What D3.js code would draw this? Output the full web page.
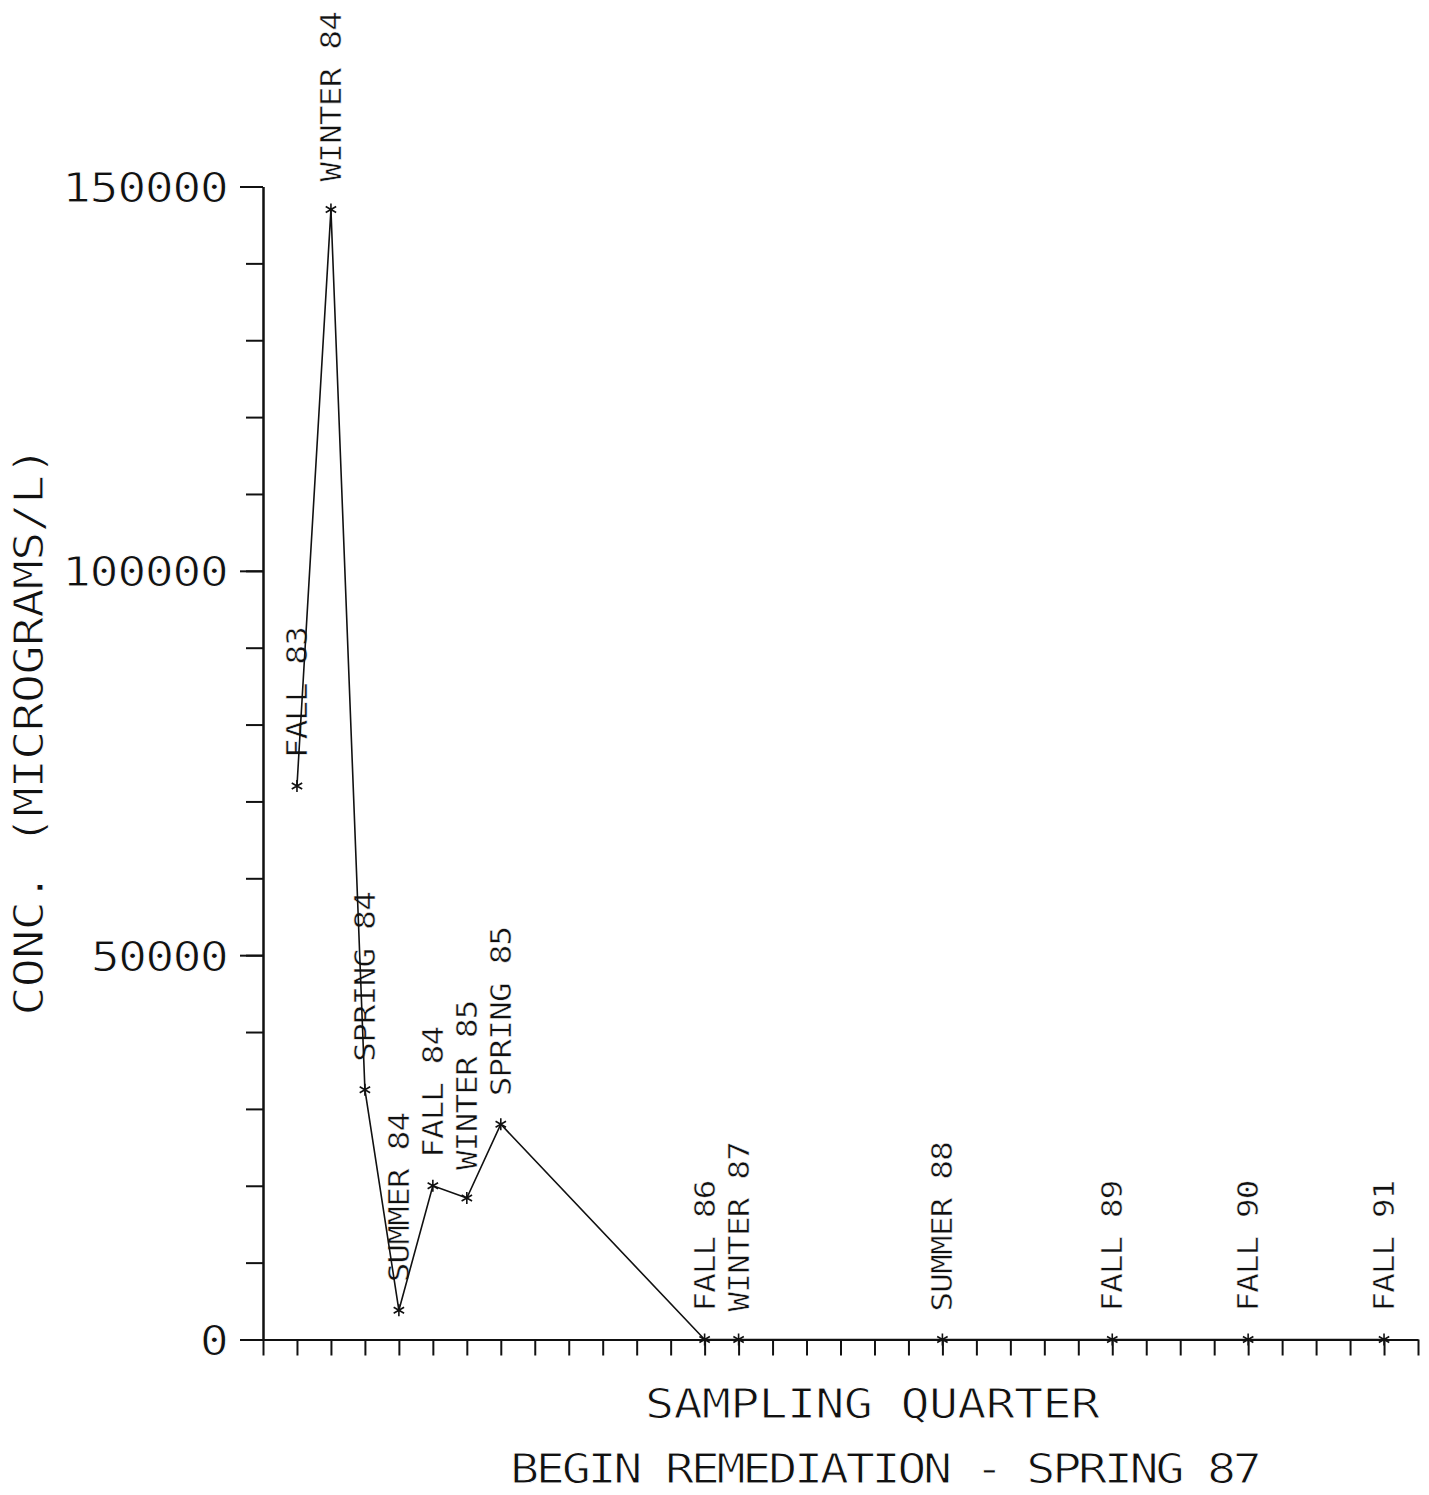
<!DOCTYPE html>
<html>
<head>
<meta charset="utf-8">
<script src="https://cdn.jsdelivr.net/npm/d3@7/dist/d3.min.js"></script>
<style>
  html, body { margin: 0; padding: 0; background: #fff; }
  svg { display: block; }
  text {
    font-family: "DejaVu Sans Mono", "Liberation Mono", monospace;
    font-weight: normal;
    font-feature-settings: "zero" 1;
    fill: #111;
    stroke: #fff;
    stroke-width: 1.0px;
  }
</style>
</head>
<body>
<svg id="chart" width="1429" height="1495"></svg>
<script>
// Sampling quarters counted from Summer 83 (index 0) on the horizontal axis.
const quarterIndex = [1, 2, 3, 4, 5, 6, 7, 13, 14, 20, 25, 29, 33];
const quarterNames = ["FALL 83", "WINTER 84", "SPRING 84", "SUMMER 84", "FALL 84",
  "WINTER 85", "SPRING 85", "FALL 86", "WINTER 87", "SUMMER 88",
  "FALL 89", "FALL 90", "FALL 91"];
// Concentration in micrograms per litre.
const concentration = [72000, 147000, 32500, 3800, 20000, 18400, 28000, 0, 0, 0, 0, 0, 0];

const yMajorTicks = [0, 50000, 100000, 150000];
const yMajorLabels = ["0", "50000", "100000", "150000"];
const yMinorTicks = d3.range(0, 150001, 10000);
const xTicks = d3.range(0, 35);

const yTitle = "CONC. (MICROGRAMS/L)";
const xTitle = "SAMPLING QUARTER";
const noteText = "BEGIN REMEDIATION - SPRING 87";

const svg = d3.select("#chart");

const x = d3.scaleLinear().domain([0, 34]).range([263, 1418]);
const y = d3.scaleLinear().domain([0, 150000]).range([1339.5, 186.5]);

const axisStroke = 2;
const stretch = 1.18;   // widen the glyphs toward square plotter lettering

// Horizontal axis with a tick for every quarter
const gx = svg.append("g")
  .attr("transform", `translate(0,${y(0)})`)
  .call(d3.axisBottom(x).tickValues(xTicks).tickSize(16).tickSizeOuter(0).tickFormat(""));

// Vertical axis: minor ticks every 10000
const gyMinor = svg.append("g")
  .attr("transform", `translate(${x(0)},0)`)
  .call(d3.axisLeft(y).tickValues(yMinorTicks).tickSize(17).tickSizeOuter(0).tickFormat(""));

// Vertical axis: major ticks with labels
const gyMajor = svg.append("g")
  .attr("transform", `translate(${x(0)},0)`)
  .call(d3.axisLeft(y).tickValues(yMajorTicks).tickSize(23).tickSizeOuter(0).tickPadding(11)
    .tickFormat((d, i) => yMajorLabels[i]));

[gx, gyMinor, gyMajor].forEach(g => {
  g.attr("font-family", null).attr("font-size", null);
  g.selectAll("path.domain").attr("stroke", "#111").attr("stroke-width", axisStroke);
  g.selectAll(".tick line").attr("stroke", "#111").attr("stroke-width", axisStroke);
});

const bigSize = 41;     // cap height about 30px
const bigAdvance = 28.8;
gyMajor.selectAll(".tick text")
  .attr("font-size", bigSize)
  .attr("dy", null)
  .attr("x", null)
  .attr("transform", `translate(-34,15) scale(${stretch},1)`)
  .attr("fill", "#111")
  .each(function () {
    const n = this.textContent.length;
    d3.select(this)
      .attr("textLength", ((n - 1) * bigAdvance + 23) / stretch)
      .attr("lengthAdjust", "spacing");
  });

// Axis titles
svg.append("text")
  .attr("transform", `translate(${28 + 15},731) rotate(-90) scale(${stretch},1)`)
  .attr("text-anchor", "middle")
  .attr("font-size", bigSize)
  .attr("textLength", ((yTitle.length - 1) * bigAdvance + 22) / stretch)
  .attr("lengthAdjust", "spacing")
  .text(yTitle);

svg.append("text")
  .attr("transform", `translate(872.5,1418) scale(${stretch},1)`)
  .attr("text-anchor", "middle")
  .attr("font-size", bigSize)
  .attr("textLength", 455 / stretch)
  .attr("lengthAdjust", "spacing")
  .text(xTitle);

svg.append("text")
  .attr("transform", `translate(886,1483) scale(${stretch},1)`)
  .attr("text-anchor", "middle")
  .attr("font-size", bigSize)
  .attr("textLength", 752 / stretch)
  .attr("lengthAdjust", "spacing")
  .text(noteText);

// Data
const points = quarterIndex.map((q, i) => ({ q, name: quarterNames[i], v: concentration[i] }));

// Quarter labels, written upward above each point (drawn under the trace)
const smallSize = 27.5;  // cap height about 20px
const smallAdvance = 19.3;
svg.append("g").selectAll("text")
  .data(points)
  .join("text")
  .attr("transform", d => `translate(${x(d.q) + 10},${y(d.v) - 28}) rotate(-90) scale(${stretch},1)`)
  .attr("font-size", smallSize)
  .style("stroke-width", "0.45px")
  .attr("textLength", d => ((d.name.length - 1) * smallAdvance + 16) / stretch)
  .attr("lengthAdjust", "spacing")
  .text(d => d.name);

svg.append("path")
  .datum(points)
  .attr("fill", "none")
  .attr("stroke", "#111")
  .attr("stroke-width", 1.6)
  .attr("d", d3.line().x(d => x(d.q)).y(d => y(d.v)));

// Asterisk markers: vertical stroke plus two diagonals
const r = 6;
const starPath = `M0,${-r}L0,${r}` +
  `M${-r * 0.87},${-r * 0.5}L${r * 0.87},${r * 0.5}` +
  `M${-r * 0.87},${r * 0.5}L${r * 0.87},${-r * 0.5}`;
svg.append("g").selectAll("path")
  .data(points)
  .join("path")
  .attr("transform", d => `translate(${x(d.q)},${y(d.v)})`)
  .attr("d", starPath)
  .attr("fill", "none")
  .attr("stroke", "#111")
  .attr("stroke-width", 1.6);
</script>
</body>
</html>
